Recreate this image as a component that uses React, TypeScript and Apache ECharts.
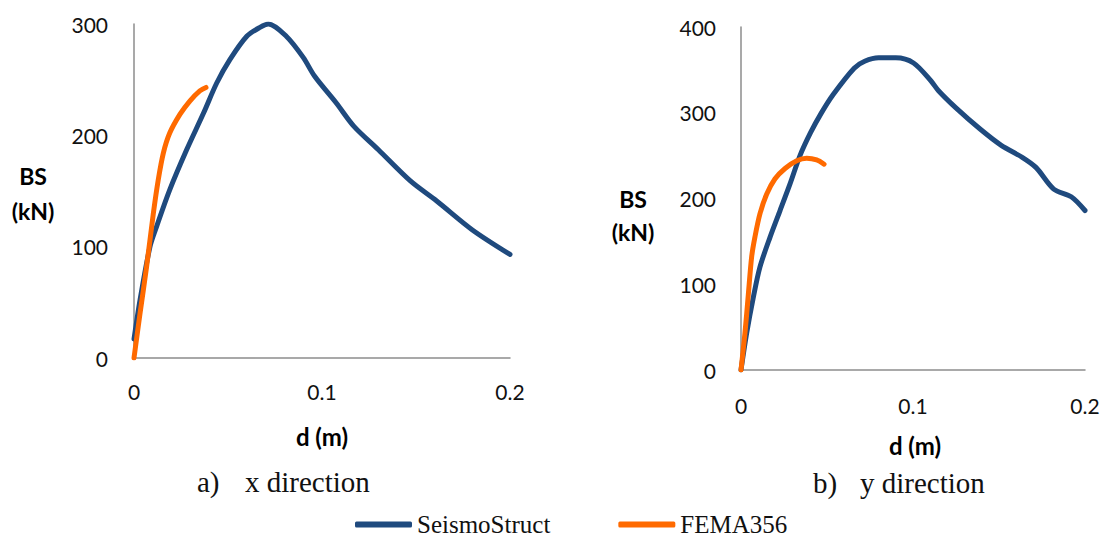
import React, { useEffect, useRef } from "react";
import * as echarts from "echarts";

// x direction
const seismoX: number[][] = [
  [0, 17], [0.0032, 52], [0.0085, 100], [0.012, 118], [0.019, 151], [0.028, 187],
  [0.037, 220], [0.044, 247], [0.051, 268], [0.06, 289], [0.067, 297], [0.0715, 300],
  [0.081, 289], [0.09, 270], [0.0961, 253], [0.1076, 229], [0.117, 208], [0.13, 187],
  [0.147, 159], [0.161, 141], [0.18, 115], [0.2, 93],
];
const femaX: number[][] = [
  [0, 0], [0.0032, 40], [0.0067, 82], [0.0103, 130], [0.0129, 160], [0.0156, 184],
  [0.019, 202], [0.0245, 219], [0.0298, 231], [0.035, 240], [0.0383, 243],
];
// y direction
const seismoY: number[][] = [
  [0, 0], [0.0033, 43], [0.0072, 85], [0.011, 120], [0.0169, 155], [0.0227, 186],
  [0.0285, 217], [0.0343, 250], [0.0405, 277], [0.0465, 299], [0.0535, 321], [0.0658, 352],
  [0.0719, 360], [0.08, 364], [0.09, 364], [0.1003, 358], [0.1105, 337], [0.1147, 326],
  [0.1248, 306], [0.139, 281], [0.1513, 262], [0.1635, 248], [0.1716, 236], [0.1818, 211],
  [0.192, 202], [0.2, 186],
];
const femaY: number[][] = [
  [0, 0], [0.0023, 43], [0.0043, 89], [0.0062, 132], [0.0081, 155], [0.011, 182],
  [0.0149, 205], [0.0198, 223], [0.0256, 235], [0.0324, 244], [0.0382, 247], [0.044, 245],
  [0.0483, 240],
];

const seriesNames = ["SeismoStruct", "FEMA356"];
const captions = [["a)", "x direction"], ["b)", "y direction"]];
const axisTitleY = ["BS", "(kN)"];
const axisTitleX = "d (m)";

const BLUE = "#1F4A7E";
const ORANGE = "#FF6A00";
const AXIS = "#8C8C8C";

export default function App() {
  const ref = useRef<HTMLDivElement>(null);
  useEffect(() => {
    if (!ref.current) return;
    const chart = echarts.init(ref.current, null, { renderer: "svg" });
    const tickFont = { fontFamily: "Lato", fontSize: 21, color: "#111" };
    const xAxisBase = (gridIndex: number, margin: number) => ({
      type: "value", gridIndex, min: 0, max: 0.2, interval: 0.1,
      axisLine: { show: true, onZero: false, lineStyle: { color: AXIS, width: 1.5 } },
      axisTick: { show: false }, splitLine: { show: false },
      axisLabel: { ...tickFont, margin, formatter: (v: number) => String(v) },
    });
    const yAxisBase = (gridIndex: number, max: number, margin: number) => ({
      type: "value", gridIndex, min: 0, max, interval: 100,
      axisLine: { show: true, lineStyle: { color: AXIS, width: 1.5 } },
      axisTick: { show: false }, splitLine: { show: false },
      axisLabel: { ...tickFont, margin },
    });
    const lineSeries = (name: string, data: number[][], idx: number, color: string) => ({
      type: "line", name, data, xAxisIndex: idx, yAxisIndex: idx, showSymbol: false,
      smooth: 0.3, color, lineStyle: { color, width: 5, cap: "round", join: "round" },
    });
    const boldText = (text: string, x: number, y: number, size: number) => ({
      type: "text", x, y,
      style: { text, fontFamily: "Lato", fontWeight: "bold", fontSize: size, fill: "#000", align: "center", verticalAlign: "middle" },
    });
    const serifText = (text: string, x: number, y: number) => ({
      type: "text", x, y,
      style: { text, fontFamily: "Liberation Serif", fontSize: 29, fill: "#111", align: "left", verticalAlign: "middle" },
    });
    chart.setOption({
      animation: false,
      grid: [
        { left: 134, top: 24, width: 376, height: 334 },
        { left: 741, top: 27, width: 344, height: 343 },
      ],
      xAxis: [xAxisBase(0, 23), xAxisBase(1, 25)],
      yAxis: [yAxisBase(0, 300, 26), yAxisBase(1, 400, 25)],
      legend: {
        left: 350, top: 507, itemWidth: 57, itemHeight: 6, itemGap: 68, icon: "roundRect",
        data: seriesNames,
        textStyle: { fontFamily: "Liberation Serif", fontSize: 25, color: "#111" },
      },
      series: [
        lineSeries(seriesNames[0], seismoX, 0, BLUE),
        lineSeries(seriesNames[1], femaX, 0, ORANGE),
        lineSeries(seriesNames[0], seismoY, 1, BLUE),
        lineSeries(seriesNames[1], femaY, 1, ORANGE),
      ],
      graphic: [
        boldText(axisTitleY[0], 33, 176, 23),
        boldText(axisTitleY[1], 33, 211, 23),
        boldText(axisTitleY[0], 633, 199, 23),
        boldText(axisTitleY[1], 633, 232, 23),
        boldText(axisTitleX, 322, 436, 24),
        boldText(axisTitleX, 915, 445, 24),
        serifText(captions[0][0], 197, 482),
        serifText(captions[0][1], 245, 482),
        serifText(captions[1][0], 813, 483),
        serifText(captions[1][1], 860, 483),
      ],
    });
    return () => chart.dispose();
  }, []);
  return <div ref={ref} style={{ position: "fixed", left: 0, top: 0, width: 1109, height: 540, background: "#fff" }} />;
}
